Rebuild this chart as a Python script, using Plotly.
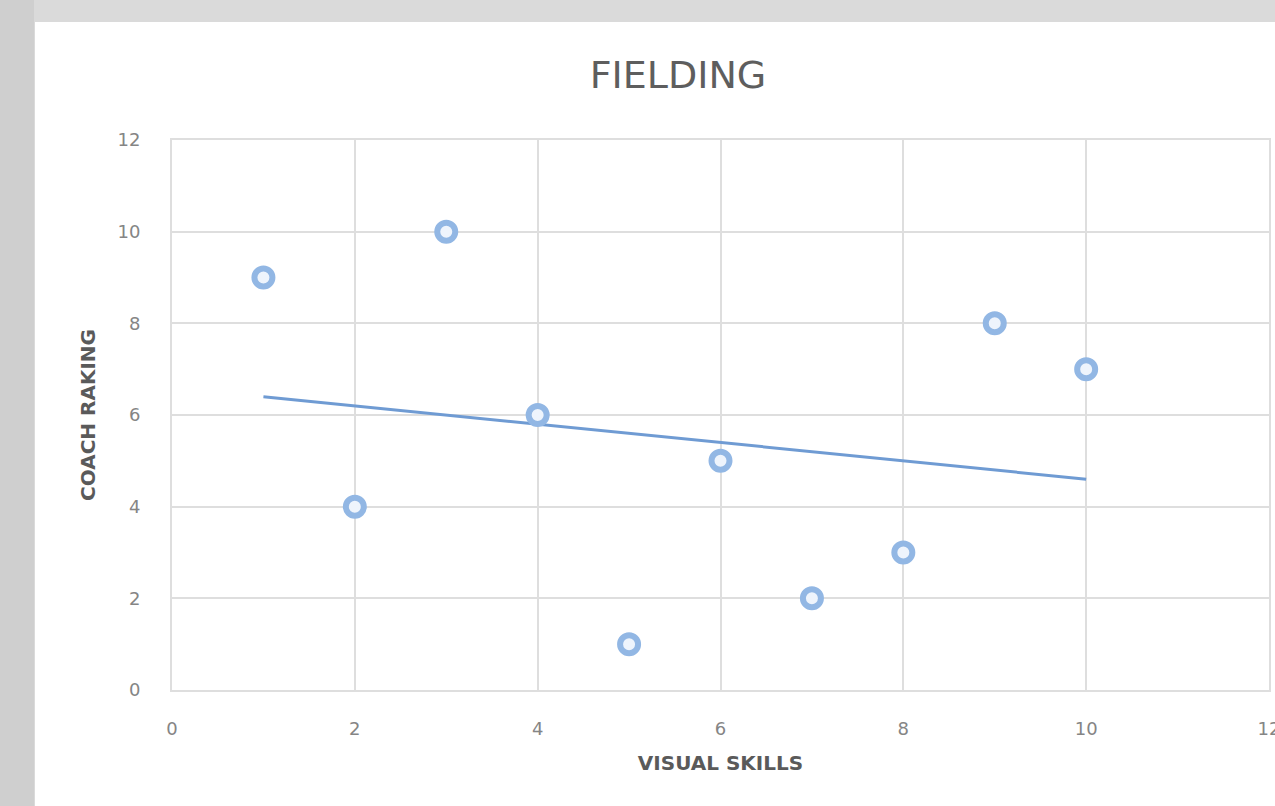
import numpy as np
import plotly.graph_objects as go

# Data
visual_skills = [1, 2, 3, 4, 5, 6, 7, 8, 9, 10]
coach_ranking = [9, 4, 10, 6, 1, 5, 2, 3, 8, 7]
x_ticks = [0, 2, 4, 6, 8, 10, 12]
y_ticks = [0, 2, 4, 6, 8, 10, 12]

# Linear trendline (least squares, as Excel)
slope, intercept = np.polyfit(visual_skills, coach_ranking, 1)
trend_x = [min(visual_skills), max(visual_skills)]
trend_y = [slope * v + intercept for v in trend_x]

W, H = 1275, 806
L, R, T, B = 172, 6, 140, 116
pw, ph = W - L - R, H - T - B

def px_x(p):
    return (p - L) / pw

def px_y(p):
    return (H - B - p) / ph

fig = go.Figure()
fig.add_trace(go.Scatter(
    x=trend_x, y=trend_y, mode="lines",
    line=dict(color="#6f9bd3", width=3),
    showlegend=False, hoverinfo="skip",
))
fig.add_trace(go.Scatter(
    x=visual_skills, y=coach_ranking, mode="markers",
    marker=dict(symbol="circle", size=18, color="#eef4fc",
                line=dict(color="#92b7e4", width=6)),
    showlegend=False,
))

font_family = "DejaVu Sans, Open Sans, sans-serif"

fig.update_layout(
    width=W, height=H,
    margin=dict(l=L, r=R, t=T, b=B, pad=0, autoexpand=False),
    paper_bgcolor="#dadada",
    plot_bgcolor="white",
    font=dict(family=font_family, color="#808080"),
    title=dict(
        text="FIELDING",
        font=dict(size=38, color="#5e5e5e", family=font_family),
        x=px_x(678), xref="paper", xanchor="center",
        y=1 - 75 / H, yref="container", yanchor="middle",
    ),
    xaxis=dict(
        range=[0, 12], tickvals=x_ticks, ticktext=[str(v) for v in x_ticks],
        showgrid=True, gridcolor="#dedede", gridwidth=2,
        zeroline=False, showline=True, mirror=True,
        linecolor="#dedede", linewidth=2,
        ticks="", ticklabelstandoff=21, ticklabeloverflow="allow",
        tickfont=dict(size=18, color="#858585"),
        title=dict(text="<b>VISUAL SKILLS</b>", standoff=18,
                   font=dict(size=20, color="#5a5a5a")),
        fixedrange=True,
    ),
    yaxis=dict(
        range=[0, 12], tickvals=y_ticks, ticktext=[str(v) for v in y_ticks],
        showgrid=True, gridcolor="#dedede", gridwidth=2,
        zeroline=False, showline=True, mirror=True,
        linecolor="#dedede", linewidth=2,
        ticks="", ticklabelstandoff=26, ticklabeloverflow="allow",
        tickfont=dict(size=18, color="#858585"),
        title=dict(text="<b>COACH RAKING</b>", standoff=16,
                   font=dict(size=20, color="#5a5a5a")),
        fixedrange=True,
    ),
    shapes=[
        dict(type="rect", xref="paper", yref="paper",
             x0=px_x(-5), x1=px_x(34), y0=px_y(H + 5), y1=px_y(-5),
             fillcolor="#cfcfcf", line=dict(width=0), layer="below"),
        dict(type="rect", xref="paper", yref="paper",
             x0=px_x(35), x1=px_x(W + 5), y0=px_y(H + 5), y1=px_y(22),
             fillcolor="white", line=dict(width=0), layer="below"),
    ],
)

fig.write_html("out.html")
